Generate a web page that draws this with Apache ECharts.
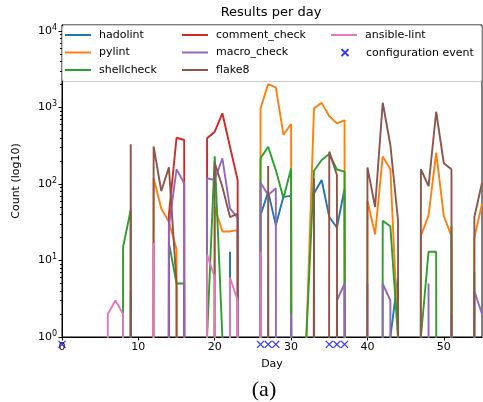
<!DOCTYPE html>
<html><head><meta charset="utf-8">
<script src="https://cdn.jsdelivr.net/npm/echarts@6/dist/echarts.min.js"></script>
<style>html,body{margin:0;padding:0;background:#fff}#c{width:483px;height:402px}</style>
</head><body><div id="c"></div>
<script>
const days = [0,1,2,3,4,5,6,7,8,9,10,11,12,13,14,15,16,17,18,19,20,21,22,23,24,25,26,27,28,29,30,31,32,33,34,35,36,37,38,39,40,41,42,43,44,45,46,47,48,49,50,51,52,53,54,55];
const hadolint = [0,0,0,0,0,0,0,0,0,4, 0,0,0,0,0,0,0,0,0,0, 0,0,13,0,0,0,39,79,29,68, 70,0,0,75,113,37,27,86,0,0, 0,0,0,1,6,0,0,0,0,0, 0,0,0,0,0,0];
const pylint = [0,0,0,0,0,0,0,0,0,0, 0,0,119,48,32,14,0,0,0,0, 50,24,24,25,0,0,980,2030,1840,440, 610,0,1,980,1150,770,620,680,0,0, 60,22,230,156,1,0,0,21,39,257, 38,21,0,0,20,55];
const shellcheck = [0,0,0,0,0,0,0,0,15,46, 0,0,0,0,17,5,5,0,0,1, 230,1,0,0,0,0,217,307,152,65, 160,0,1,149,206,247,155,145,0,0, 0,0,33,28,1,0,0,1,13,13, 0,28,0,0,7,0];
const comment_check = [0,0,0,0,0,0,0,0,0,0, 0,0,0,0,40,403,376,0,0,396, 483,840,307,113,0,0,0,0,0,0, 0,0,0,0,0,0,0,0,0,0, 0,0,0,0,0,0,0,0,0,0, 0,0,0,0,0,0];
const macro_check = [0,0,0,0,0,0,0,0,0,0, 0,0,0,0,28,156,102,0,0,119, 113,217,48,36,0,0,104,72,88,0, 2,0,0,3,0,0,3,5,0,0, 5,0,5,3,0,0,0,0,5,0, 0,2,0,0,4,2];
const flake8 = [0,0,0,0,0,0,0,0,0,330, 0,0,310,81,165,5,0,0,0,0, 190,92,37,41,0,0,0,172,0,0, 0,0,0,120,0,265,131,0,0,0, 165,50,1155,324,34,0,0,156,94,881, 187,156,0,0,37,104];
const ansible_lint = [0,0,0,0,0,0,2,3,2,0, 0,0,17,0,0,0,0,0,0,12, 6,0,6,3,0,0,13,0,0,0, 0,0,0,0,0,0,0,0,0,0, 0,0,0,0,0,0,0,0,0,0, 0,0,0,0,0,0];
const eventDays = [0,26,27,28,35,36,37];
const eventLevel = [0.8,0.8,0.8,0.8,0.8,0.8,0.8];
const seriesNames = ['hadolint','pylint','shellcheck','comment_check','macro_check','flake8','ansible-lint'];
const majorTicks = [1,10,100,1000,10000];
const minorTicks = [2,3,4,5,6,7,8,9,20,30,40,50,60,70,80,90,200,300,400,500,600,700,800,900,2000,3000,4000,5000,6000,7000,8000,9000];
const xTicks = [0,10,20,30,40,50];

const seriesValues = [hadolint, pylint, shellcheck, comment_check, macro_check, flake8, ansible_lint];
const colors = ['#1f77b4','#ff7f0e','#2ca02c','#d62728','#9467bd','#8c564b','#e377c2'];
const FONT = 'DejaVu Sans';
const TINY = 1e-100; // zero counts fall off the log axis (clipped like matplotlib)

const chart = echarts.init(document.getElementById('c'), null, {renderer:'canvas'});

const lineSeries = seriesNames.map((n, i) => ({
  type: 'line', name: n,
  data: days.map((d, j) => [d, seriesValues[i][j] > 0 ? seriesValues[i][j] : TINY]),
  symbol: 'none', showSymbol: false,
  lineStyle: {width: 1.9, color: colors[i]},
  itemStyle: {color: colors[i]},
  clip: true, animation: false, z: 2
}));

const xPath = 'path://M0,0L10,10M10,0L0,10';
const eventSeries = {
  type: 'scatter', name: 'configuration event',
  data: eventDays.map((d, i) => [d, eventLevel[i]]),
  symbol: xPath, symbolSize: 7,
  itemStyle: {color: 'transparent', borderColor: '#0000ff', borderWidth: 1.3},
  clip: false, animation: false, z: 10
};

const legendText = {fontSize: 11, lineHeight: 17.5, color: '#000', fontFamily: FONT, padding: [0,0,0,3]};
const legendBase = {orient: 'vertical', icon: 'rect', itemWidth: 26, itemHeight: 2, itemGap: 0, padding: 0, textStyle: legendText, z: 60, selectedMode: false};

chart.setOption({
  animation: false,
  backgroundColor: '#fff',
  grid: {left: 62, top: 25, right: 1, bottom: 65, show: true, borderColor: '#000', borderWidth: 1, backgroundColor: '#fff'},
  xAxis: {
    type: 'value', min: 0, max: 55, interval: 10,
    name: 'Day', nameLocation: 'middle', nameGap: 22,
    nameTextStyle: {fontSize: 11, color: '#000', fontFamily: FONT},
    axisLine: {lineStyle: {color: '#000', width: 1}},
    axisTick: {length: 3.5, lineStyle: {color: '#000'}, customValues: xTicks},
    axisLabel: {fontSize: 11, color: '#000', fontFamily: FONT, margin: 5, customValues: xTicks},
    splitLine: {show: false}
  },
  yAxis: [{
    type: 'log', logBase: 10, min: 1, max: 12000,
    name: 'Count (log10)', nameLocation: 'middle', nameGap: 40,
    nameTextStyle: {fontSize: 11, color: '#000', fontFamily: FONT},
    axisLine: {show: true, lineStyle: {color: '#000', width: 1}},
    axisTick: {show: true, length: 3.5, lineStyle: {color: '#000'}, customValues: majorTicks},
    axisLabel: {
      customValues: majorTicks, margin: 5,
      formatter: v => '10{sup|' + Math.round(Math.log10(v)) + '}',
      rich: {sup: {fontSize: 8, fontFamily: FONT, color: '#000', padding: [0,0,7,0]}},
      fontSize: 11, color: '#000', fontFamily: FONT
    },
    splitLine: {show: false}
  }, {
    type: 'log', logBase: 10, min: 1, max: 12000, position: 'left',
    axisLine: {show: false},
    axisTick: {show: true, length: 2, lineStyle: {color: '#000'}, customValues: minorTicks},
    axisLabel: {show: false},
    splitLine: {show: false}
  }],
  legend: [
    Object.assign({}, legendBase, {data: ['hadolint','pylint','shellcheck'], left: 65, top: 26.25}),
    Object.assign({}, legendBase, {data: ['comment_check','macro_check','flake8'], left: 182, top: 26.25}),
    Object.assign({}, legendBase, {data: ['ansible-lint'], left: 331, top: 26.25}),
    Object.assign({}, legendBase, {data: [{name: 'configuration event', icon: xPath}], left: 340.5, top: 43.9,
      itemWidth: 7, itemHeight: 7, textStyle: Object.assign({}, legendText, {padding: [0,0,0,12.5]})})
  ],
  graphic: [
    {type: 'rect', shape: {x: 62.5, y: 25.5, width: 419, height: 56, r: 2},
     style: {fill: 'rgba(255,255,255,0.8)', stroke: '#cccccc', lineWidth: 1}, z: 50},
    {type: 'text', x: 271, y: 13, z: 60,
     style: {text: 'Results per day', font: '13px "DejaVu Sans"', fill: '#000', textAlign: 'center', textVerticalAlign: 'middle'}},
    {type: 'text', x: 264, y: 390, z: 60,
     style: {text: '(a)', font: '22px "Liberation Serif"', fill: '#000', textAlign: 'center', textVerticalAlign: 'middle'}}
  ],
  series: lineSeries.concat([eventSeries])
});
</script></body></html>
